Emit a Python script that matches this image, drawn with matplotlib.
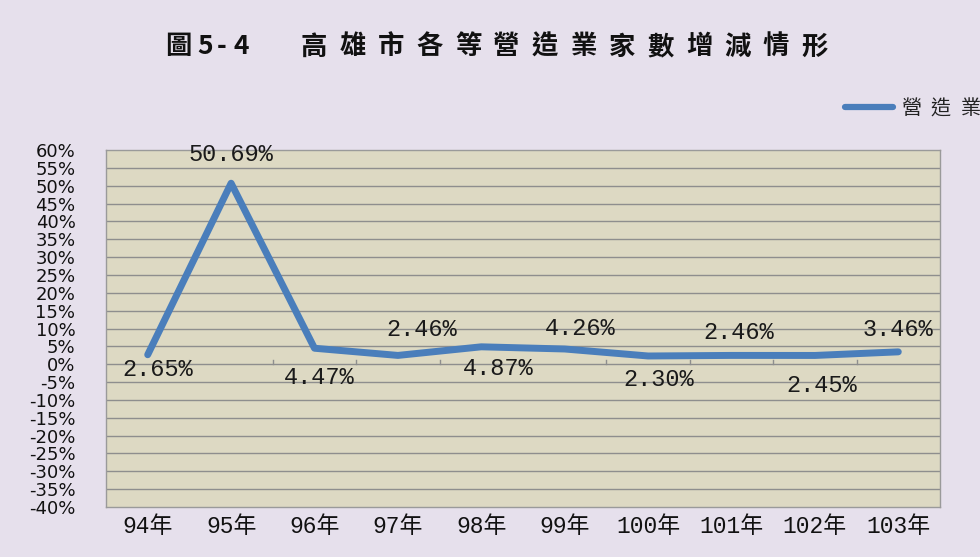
import matplotlib
matplotlib.use("Agg")
import matplotlib.pyplot as plt
import numpy as np

years = ["94年", "95年", "96年", "97年", "98年", "99年", "100年", "101年", "102年", "103年"]
values = [2.65, 50.69, 4.47, 2.46, 4.87, 4.26, 2.30, 2.46, 2.45, 3.46]
series_name = "營造業"
title_prefix = "圖5-4"
title_main = "高雄市各等營造業家數增減情形"
yticks = list(range(-40, 65, 5))

# label offsets (pixels, dx right, dy up) - layout only
label_dx = [10, 0, 5, 24, 17, 15, 11, 7, 7, 0]
label_dy = [-15, 29, -29, 26, -22, 20, -24, 23, -30, 22]

bg = "#E6E0EC"
plot_bg = "#DDD9C3"
line_c = "#4A7EBB"
grid_c = "#8E8E8E"
W, H = 980, 557

fig = plt.figure(figsize=(9.8, 5.57), dpi=100, facecolor=bg)
ax = fig.add_axes([106/W, 1-507/H, (940-106)/W, (507-150)/H])
ax.set_facecolor(plot_bg)

x = np.arange(len(years))
ax.plot(x, values, color=line_c, lw=5.0, solid_capstyle="round", solid_joinstyle="round", zorder=3)

ax.set_xlim(-0.5, len(years)-0.5)
ax.set_ylim(-40, 60)
ax.set_yticks(yticks)
ax.set_yticklabels([f"{v}%" for v in yticks], family=["DejaVu Sans"], fontsize=13, color="#111111")
ax.tick_params(axis="y", length=0, pad=22)
for v in yticks:
    if v not in (-40, 60):
        ax.axhline(v, color=grid_c, lw=1.0, zorder=1)
for s in ax.spines.values():
    s.set_color("#9A9A9A")
    s.set_linewidth(1.0)

ax.set_xticks(x)
ax.set_xticklabels(years, family=["Liberation Mono", "Noto Sans CJK TC"], fontsize=16.5, color="#111111")
ax.tick_params(axis="x", length=0, pad=6)
for b in np.arange(0.5, len(years)-0.5+1e-9, 1.0):
    ax.plot([b, b], [0, 1.3], color=grid_c, lw=1.0, zorder=2)

for xi, v, dx, dy in zip(x, values, label_dx, label_dy):
    ax.annotate(f"{v:.2f}%", (xi, v), xytext=(dx*0.72, dy*0.72), textcoords="offset points",
                ha="center", va="center", fontsize=17, family=["Liberation Mono"], color="#1a1a1a")

# title, letter-spaced like the reference
tfont = dict(fontsize=19, fontweight="bold", family=["Noto Sans CJK TC"], color="#111111",
             ha="center", va="center")
prefix_x = [178, 205, 222, 241]
for ch, px in zip(title_prefix, prefix_x):
    fig.text(px/W, 1-47/H, ch, **tfont)
for i, ch in enumerate(title_main):
    fig.text((314 + 38.5*i)/W, 1-47/H, ch, **tfont)

# legend
fig.add_artist(plt.Line2D([845/W, 893/W], [1-107/H, 1-107/H], color=line_c, lw=4.5,
                          solid_capstyle="round", transform=fig.transFigure))
for i, ch in enumerate(series_name):
    fig.text((911 + 30*i)/W, 1-109/H, ch, ha="center", va="center", fontsize=14.5,
             family=["Noto Sans CJK TC"], color="#222222")

fig.savefig("out.png", dpi=100, facecolor=bg)
